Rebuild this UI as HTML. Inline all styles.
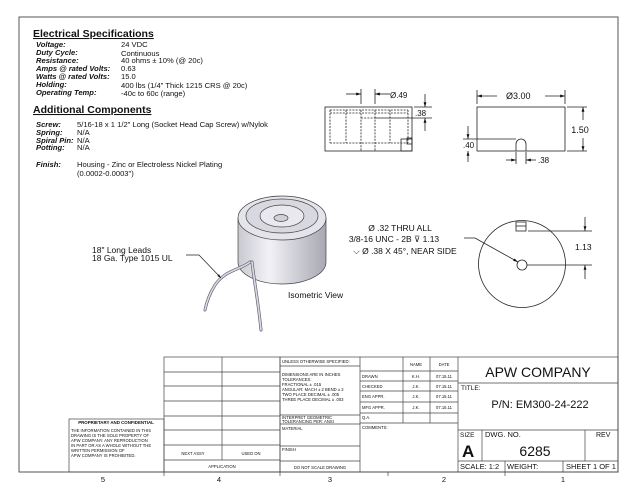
<!DOCTYPE html>
<html><head><meta charset="utf-8"><style>
html,body{margin:0;padding:0;background:#fff}
svg{display:block}
text{font-family:"Liberation Sans",sans-serif;fill:#111}
.b{font-weight:bold;font-style:italic}
.t{font-size:4.2px}
</style></head><body>
<svg width="640" height="495" viewBox="0 0 640 495" xmlns="http://www.w3.org/2000/svg">
<defs>
<linearGradient id="g" x1="0" x2="1" y1="0" y2="0">
<stop offset="0" stop-color="#c8c8d0"/><stop offset="0.35" stop-color="#f2f2f6"/><stop offset="1" stop-color="#a8a8b4"/></linearGradient>
<marker id="a" viewBox="0 0 10 10" refX="10" refY="5" markerWidth="6" markerHeight="6" orient="auto-start-reverse"><path d="M0,2L10,5L0,8z" fill="#111"/></marker>
</defs>
<rect x="19" y="17" width="599" height="455" fill="none" stroke="#555" stroke-width="1"/>
<!-- specs -->
<text x="33" y="37" font-size="10.5" font-weight="bold" text-decoration="underline">Electrical Specifications</text>
<g font-size="7.6">
<text class="b" x="36" y="47">Voltage:</text><text x="121" y="47">24 VDC</text>
<text class="b" x="36" y="55">Duty Cycle:</text><text x="121" y="56">Continuous</text>
<text class="b" x="36" y="63">Resistance:</text><text x="121" y="63">40 ohms ± 10% (@ 20c)</text>
<text class="b" x="36" y="71">Amps @ rated Volts:</text><text x="121" y="71">0.63</text>
<text class="b" x="36" y="79">Watts @ rated Volts:</text><text x="121" y="79">15.0</text>
<text class="b" x="36" y="87">Holding:</text><text x="121" y="88">400 lbs (1/4" Thick 1215 CRS @ 20c)</text>
<text class="b" x="36" y="95">Operating Temp:</text><text x="121" y="96">-40c to 60c (range)</text>
</g>
<text x="33" y="113" font-size="10.5" font-weight="bold" text-decoration="underline">Additional Components</text>
<g font-size="7.6">
<text class="b" x="36" y="127">Screw:</text><text x="77" y="127">5/16-18 x 1 1/2" Long (Socket Head Cap Screw) w/Nylok</text>
<text class="b" x="36" y="135">Spring:</text><text x="77" y="135">N/A</text>
<text class="b" x="36" y="143">Spiral Pin:</text><text x="77" y="143">N/A</text>
<text class="b" x="36" y="150">Potting:</text><text x="77" y="150">N/A</text>
<text class="b" x="36" y="167">Finish:</text><text x="77" y="167">Housing - Zinc or Electroless Nickel Plating</text>
<text x="77" y="176">(0.0002-0.0003")</text>
</g>
<!-- side view -->
<g stroke="#222" stroke-width="0.8" fill="none">
<rect x="325" y="107" width="87" height="44"/>
<g stroke-dasharray="2,1.2">
<line x1="330" y1="110" x2="408" y2="110"/><line x1="330" y1="113" x2="408" y2="113"/>
<line x1="330" y1="110" x2="330" y2="143"/><line x1="408" y1="110" x2="408" y2="143"/>
<line x1="330" y1="143" x2="408" y2="143"/>
<line x1="346" y1="110" x2="346" y2="143"/><line x1="390" y1="110" x2="390" y2="143"/>
<line x1="361" y1="110" x2="361" y2="151"/><line x1="375" y1="110" x2="375" y2="151"/>
<line x1="361" y1="118" x2="375" y2="118"/>
</g>
<rect x="401" y="139" width="11" height="12"/><rect x="407" y="138" width="5" height="6"/>
<line x1="361" y1="89" x2="361" y2="104"/><line x1="375" y1="89" x2="375" y2="104"/>
<line x1="346" y1="94" x2="361" y2="94" marker-end="url(#a)"/><line x1="390" y1="94" x2="375" y2="94" marker-end="url(#a)"/>
<line x1="375" y1="118" x2="432" y2="118"/><line x1="414" y1="107" x2="432" y2="107"/>
<line x1="425" y1="94" x2="425" y2="107" marker-end="url(#a)"/><line x1="425" y1="131" x2="425" y2="118" marker-end="url(#a)"/>
</g>
<text x="390" y="98" font-size="8">Ø.49</text>
<text x="415" y="116" font-size="8">.38</text>
<!-- front view -->
<g stroke="#222" stroke-width="0.8" fill="none">
<rect x="477" y="107" width="88" height="44"/>
<path d="M516,151V144A5,5 0 0 1 526,144V151"/>
<line x1="477" y1="90" x2="477" y2="104"/><line x1="565" y1="90" x2="565" y2="104"/>
<line x1="497" y1="96" x2="477" y2="96" marker-end="url(#a)"/><line x1="545" y1="96" x2="565" y2="96" marker-end="url(#a)"/>
<line x1="567" y1="107" x2="587" y2="107"/><line x1="567" y1="151" x2="587" y2="151"/>
<line x1="583" y1="120" x2="583" y2="107" marker-end="url(#a)"/><line x1="583" y1="138" x2="583" y2="151" marker-end="url(#a)"/>
<line x1="463" y1="139" x2="516" y2="139"/>
<line x1="468" y1="126" x2="468" y2="139" marker-end="url(#a)"/><line x1="468" y1="162" x2="468" y2="151" marker-end="url(#a)"/>
<line x1="516" y1="152" x2="516" y2="164"/><line x1="526" y1="152" x2="526" y2="164"/>
<line x1="506" y1="160" x2="516" y2="160" marker-end="url(#a)"/><line x1="536" y1="160" x2="526" y2="160" marker-end="url(#a)"/>
</g>
<text x="506" y="99" font-size="9">Ø3.00</text>
<text x="580" y="133" font-size="9" text-anchor="middle" fill="#111" style="paint-order:stroke" stroke="#fff" stroke-width="3">1.50</text>
<text x="463" y="148" font-size="8">.40</text>
<text x="538" y="163" font-size="8">.38</text>
<!-- circle view -->
<g stroke="#222" stroke-width="0.8" fill="none">
<circle cx="522" cy="264" r="43.5"/>
<circle cx="522" cy="265" r="5"/>
<rect x="516" y="222" width="10" height="9"/><line x1="516" y1="226" x2="526" y2="226"/>
<line x1="528" y1="231" x2="592" y2="231"/><line x1="527" y1="265" x2="592" y2="265"/>
<line x1="585" y1="217" x2="585" y2="231" marker-end="url(#a)"/><line x1="585" y1="279" x2="585" y2="265" marker-end="url(#a)"/>
<polyline points="464,238 475,238 518,262" marker-end="url(#a)"/>
</g>
<text x="575" y="250" font-size="8.5">1.13</text>
<g font-size="8.5" text-anchor="middle">
<text x="400" y="231">Ø .32 THRU ALL</text>
<text x="394" y="242">3/8-16 UNC - 2B ⊽ 1.13</text>
<text x="405" y="254">⌵ Ø .38 X 45°, NEAR SIDE</text>
</g>
<!-- isometric -->
<g stroke="#444" stroke-width="0.7">
<path d="M238,218V262A44,22 0 0 0 326,262V218Z" fill="url(#g)"/>
<ellipse cx="282" cy="218" rx="44" ry="22" fill="#e4e4ea"/>
<ellipse cx="282" cy="216" rx="36" ry="17" fill="#d8d8e0"/>
<ellipse cx="282" cy="216" rx="22" ry="11" fill="#e8e8ee"/>
<ellipse cx="281" cy="218" rx="7" ry="3.5" fill="#d0d0d8"/>
</g>
<g fill="none" stroke-linecap="round">
<path d="M250,262C240,270 225,270 215,285 C210,293 207,300 205,310" stroke="#666" stroke-width="3"/>
<path d="M250,262C240,270 225,270 215,285 C210,293 207,300 205,310" stroke="#d8daf0" stroke-width="1.6"/>
<path d="M252,262C254,280 258,300 261,330" stroke="#666" stroke-width="3"/>
<path d="M252,262C254,280 258,300 261,330" stroke="#d8daf0" stroke-width="1.6"/>
</g>
<polyline points="186,255 199,255 221,278" fill="none" stroke="#222" stroke-width="0.7" marker-end="url(#a)"/>
<text x="92" y="253" font-size="8.5">18" Long Leads</text>
<text x="92" y="261" font-size="8.5">18 Ga. Type 1015 UL</text>
<text x="288" y="298" font-size="8.5">Isometric View</text>
<!-- title block -->
<g stroke="#444" stroke-width="0.7" fill="none">
<rect x="69" y="419" width="95" height="53"/>
<rect x="164" y="357" width="116" height="115"/>
<line x1="222" y1="357" x2="222" y2="460"/>
<line x1="164" y1="372" x2="280" y2="372"/><line x1="164" y1="386" x2="280" y2="386"/>
<line x1="164" y1="401" x2="280" y2="401"/><line x1="164" y1="416" x2="280" y2="416"/>
<line x1="164" y1="430" x2="280" y2="430"/><line x1="164" y1="445" x2="280" y2="445"/>
<line x1="164" y1="460" x2="280" y2="460"/>
<rect x="280" y="357" width="338" height="115"/>
<line x1="280" y1="366" x2="360" y2="366"/><line x1="280" y1="415" x2="360" y2="415"/>
<line x1="280" y1="424" x2="360" y2="424"/><line x1="280" y1="446" x2="360" y2="446"/>
<line x1="280" y1="461" x2="360" y2="461"/>
<line x1="360" y1="357" x2="360" y2="472"/>
<line x1="403" y1="357" x2="403" y2="423"/><line x1="430" y1="357" x2="430" y2="423"/>
<line x1="360" y1="371" x2="458" y2="371"/><line x1="360" y1="381" x2="458" y2="381"/>
<line x1="360" y1="391" x2="458" y2="391"/><line x1="360" y1="402" x2="458" y2="402"/>
<line x1="360" y1="413" x2="458" y2="413"/><line x1="360" y1="423" x2="458" y2="423"/>
<line x1="458" y1="357" x2="458" y2="472"/>
<line x1="458" y1="383" x2="618" y2="383"/><line x1="458" y1="430" x2="618" y2="430"/>
<line x1="458" y1="461" x2="618" y2="461"/>
<line x1="482" y1="430" x2="482" y2="461"/><line x1="585" y1="430" x2="585" y2="461"/>
<line x1="505" y1="461" x2="505" y2="472"/><line x1="563" y1="461" x2="563" y2="472"/>
<line x1="164" y1="472" x2="164" y2="476"/><line x1="280" y1="472" x2="280" y2="476"/>
<line x1="388" y1="472" x2="388" y2="476"/><line x1="505" y1="472" x2="505" y2="476"/>
</g>
<text x="116" y="424" font-size="4.4" font-weight="bold" text-anchor="middle">PROPRIETARY AND CONFIDENTIAL</text>
<g class="t">
<text x="71" y="432">THE INFORMATION CONTAINED IN THIS</text>
<text x="71" y="437">DRAWING IS THE SOLE PROPERTY OF</text>
<text x="71" y="442">APW COMPANY.  ANY REPRODUCTION</text>
<text x="71" y="447">IN PART OR AS A WHOLE WITHOUT THE</text>
<text x="71" y="452">WRITTEN PERMISSION OF</text>
<text x="71" y="457">APW COMPANY IS PROHIBITED.</text>
<text x="193" y="455" text-anchor="middle">NEXT ASSY</text>
<text x="251" y="455" text-anchor="middle">USED ON</text>
<text x="222" y="468" text-anchor="middle">APPLICATION</text>
<text x="282" y="363">UNLESS OTHERWISE SPECIFIED:</text>
<text x="282" y="376">DIMENSIONS ARE IN INCHES</text>
<text x="282" y="381">TOLERANCES:</text>
<text x="282" y="386">FRACTIONAL ± .015</text>
<text x="282" y="391">ANGULAR: MACH ± 2   BEND ± 2</text>
<text x="282" y="396">TWO PLACE DECIMAL   ± .005</text>
<text x="282" y="401">THREE PLACE DECIMAL  ± .003</text>
<text x="282" y="419">INTERPRET GEOMETRIC</text>
<text x="282" y="423">TOLERANCING PER: ANSI</text>
<text x="282" y="430">MATERIAL</text>
<text x="282" y="451">FINISH</text>
<text x="320" y="469" text-anchor="middle">DO NOT SCALE DRAWING</text>
<text x="416" y="366" text-anchor="middle">NAME</text><text x="444" y="366" text-anchor="middle">DATE</text>
<text x="362" y="378">DRAWN</text><text x="416" y="378" text-anchor="middle">K.H.</text><text x="444" y="378" text-anchor="middle">07.15.11</text>
<text x="362" y="388">CHECKED</text><text x="416" y="388" text-anchor="middle">J.K.</text><text x="444" y="388" text-anchor="middle">07.15.11</text>
<text x="362" y="398">ENG APPR.</text><text x="416" y="398" text-anchor="middle">J.K.</text><text x="444" y="398" text-anchor="middle">07.15.11</text>
<text x="362" y="409">MFG APPR.</text><text x="416" y="409" text-anchor="middle">J.K.</text><text x="444" y="409" text-anchor="middle">07.15.11</text>
<text x="362" y="419">Q.A.</text>
<text x="362" y="429">COMMENTS:</text>
</g>
<text x="538" y="377" font-size="14" text-anchor="middle">APW COMPANY</text>
<text x="461" y="390" font-size="6.5">TITLE:</text>
<text x="540" y="408" font-size="11" text-anchor="middle">P/N: EM300-24-222</text>
<text x="460" y="437" font-size="6.5">SIZE</text>
<text x="462" y="457" font-size="17" font-weight="bold">A</text>
<text x="485" y="437" font-size="7.5">DWG.  NO.</text>
<text x="535" y="456" font-size="14" text-anchor="middle">6285</text>
<text x="596" y="437" font-size="7">REV</text>
<text x="460" y="469" font-size="7.5">SCALE: 1:2</text>
<text x="507" y="469" font-size="7.5">WEIGHT:</text>
<text x="566" y="469" font-size="7.5">SHEET 1 OF 1</text>
<g font-size="7.5" text-anchor="middle">
<text x="103" y="482">5</text><text x="219" y="482">4</text><text x="330" y="482">3</text><text x="444" y="482">2</text><text x="563" y="482">1</text>
</g>
</svg>
</body></html>
